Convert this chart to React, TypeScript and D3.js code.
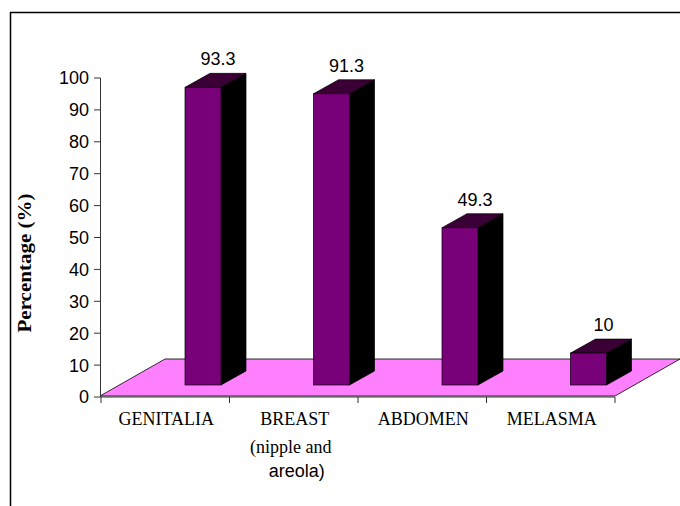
import React, { useEffect, useRef } from 'react';
import * as d3 from 'd3';

const categories = ['GENITALIA', 'BREAST', 'ABDOMEN', 'MELASMA'];
const values = [93.3, 91.3, 49.3, 10];
const valueLabels = ['93.3', '91.3', '49.3', '10'];
const yTicks = [0, 10, 20, 30, 40, 50, 60, 70, 80, 90, 100];

const App: React.FC = () => {
  const svgRef = useRef<SVGSVGElement>(null);

  useEffect(() => {
    document.body.style.margin = '0';
    if (!svgRef.current) return;
    const svg = d3.select(svgRef.current);
    svg.selectAll('*').remove();

    const width = 680;
    const height = 506;
    svg.attr('width', width).attr('height', height);

    const x = d3.scaleBand<string>().domain(categories).range([101, 615]).padding(0);
    const y = d3.scaleLinear().domain([0, 100]).range([397, 78]);

    // frame (only top and left visible)
    svg.append('path')
      .attr('d', `M10.5,${height} L10.5,12.5 L${width},12.5`)
      .style('fill', 'none')
      .style('stroke', '#000')
      .style('stroke-width', '1.5px');

    // floor
    const floorDx = 65;
    const floorDy = -37;
    const fx0 = x.range()[0] - 1;
    const fx1 = x.range()[1];
    const fy = y(0) - 1;
    svg.append('polygon')
      .attr('points', [
        [fx0, fy], [fx1, fy], [fx1 + floorDx, fy + floorDy], [fx0 + floorDx, fy + floorDy]
      ].map(p => p.join(',')).join(' '))
      .style('fill', '#ff80ff')
      .style('stroke', '#000')
      .style('stroke-width', '0.8px');

    // bars
    const barOffset = 84;
    const barW = 36;
    const lift = 12;
    const dx = 25;
    const dy = -14;
    const bars = svg.append('g');
    categories.forEach((c, i) => {
      const fl = (x(c) as number) + barOffset;
      const fr = fl + barW;
      const top = y(values[i]) - lift;
      const bottom = y(0) - lift;
      const pts = (arr: number[][]) => arr.map(p => p.join(',')).join(' ');
      bars.append('polygon')
        .attr('points', pts([[fr, bottom], [fr, top], [fr + dx, top + dy], [fr + dx, bottom + dy]]))
        .style('fill', '#000')
        .style('stroke', '#000')
        .style('stroke-width', '0.7px');
      bars.append('polygon')
        .attr('points', pts([[fl, top], [fl + dx, top + dy], [fr + dx, top + dy], [fr, top]]))
        .style('fill', '#3a0036')
        .style('stroke', '#000')
        .style('stroke-width', '0.7px');
      bars.append('rect')
        .attr('x', fl)
        .attr('y', top)
        .attr('width', barW)
        .attr('height', bottom - top)
        .style('fill', '#780078')
        .style('stroke', '#000')
        .style('stroke-width', '0.7px');
      bars.append('text')
        .attr('x', fl + 33)
        .attr('y', top + dy - 8)
        .attr('text-anchor', 'middle')
        .style('font-family', '"Liberation Sans", Arial, sans-serif')
        .style('font-size', '18px')
        .style('fill', '#000')
        .text(valueLabels[i]);
    });

    // y axis
    svg.append('line')
      .attr('x1', 100.5).attr('x2', 100.5)
      .attr('y1', y(100)).attr('y2', y(0))
      .style('stroke', '#333')
      .style('stroke-width', '1px');
    const yt = svg.append('g');
    yTicks.forEach(t => {
      yt.append('line')
        .attr('x1', 94).attr('x2', 100.5)
        .attr('y1', y(t)).attr('y2', y(t))
        .style('stroke', '#333');
      yt.append('text')
        .attr('x', 89)
        .attr('y', y(t))
        .attr('dy', '0.36em')
        .attr('text-anchor', 'end')
        .style('font-family', '"Liberation Sans", Arial, sans-serif')
        .style('font-size', '18px')
        .style('fill', '#000')
        .text(t);
    });

    // x axis
    svg.append('line')
      .attr('x1', 100.5).attr('x2', x.range()[1])
      .attr('y1', y(0)).attr('y2', y(0))
      .style('stroke', '#333')
      .style('stroke-width', '1px');
    const edges = categories.map(c => x(c) as number).concat([x.range()[1]]);
    edges.forEach(e => {
      svg.append('line')
        .attr('x1', e).attr('x2', e)
        .attr('y1', y(0)).attr('y2', y(0) + 6)
        .style('stroke', '#333');
    });

    // category labels
    categories.forEach(c => {
      const cx = (x(c) as number) + x.bandwidth() / 2;
      svg.append('text')
        .attr('x', cx + 1)
        .attr('y', 425)
        .attr('text-anchor', 'middle')
        .style('font-family', '"Liberation Serif", "Times New Roman", serif')
        .style('font-size', '18px')
        .style('fill', '#000')
        .text(c);
    });
    const bx = (x('BREAST') as number) + x.bandwidth() / 2;
    svg.append('text')
      .attr('x', bx - 3)
      .attr('y', 453)
      .attr('text-anchor', 'middle')
      .style('font-family', '"Liberation Serif", "Times New Roman", serif')
      .style('font-size', '18px')
      .text('(nipple and');
    svg.append('text')
      .attr('x', bx + 3)
      .attr('y', 477)
      .attr('text-anchor', 'middle')
      .style('font-family', '"Liberation Sans", Arial, sans-serif')
      .style('font-size', '18px')
      .text('areola)');

    // y axis title
    svg.append('text')
      .attr('transform', 'translate(31,263) rotate(-90)')
      .attr('text-anchor', 'middle')
      .attr('textLength', 139)
      .attr('lengthAdjust', 'spacingAndGlyphs')
      .style('font-family', '"Liberation Serif", "Times New Roman", serif')
      .style('font-weight', 'bold')
      .style('font-size', '18px')
      .text('Percentage (%)');
  }, []);

  return <svg ref={svgRef} style={{ display: 'block' }}></svg>;
};

export default App;
